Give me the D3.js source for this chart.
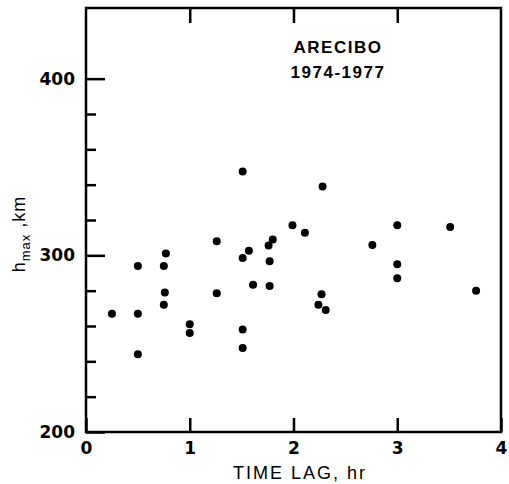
<!DOCTYPE html>
<html>
<head>
<meta charset="utf-8">
<script src="https://cdn.jsdelivr.net/npm/d3@7"></script>
<style>
  body { margin: 0; background: #fff; }
  svg { font-family: 'Liberation Sans', 'DejaVu Sans', sans-serif; }
  .axis path, .axis line { stroke: #000; stroke-width: 2.5; }
  .axis text { font-family: 'DejaVu Sans', sans-serif; font-size: 17px; font-weight: bold; fill: #000; }
</style>
</head>
<body>
<svg id="chart"></svg>
<script>
// time lag (hr) and h_max (km)
const timeLag = [0.25, 0.5, 0.5, 0.5, 0.75, 0.77, 0.76, 0.75, 1.0, 1.0, 1.26, 1.26,
  1.51, 1.51, 1.57, 1.51, 1.51, 1.61, 1.76, 1.80, 1.77, 1.77, 1.99, 2.11,
  2.28, 2.27, 2.24, 2.31, 2.76, 3.0, 3.0, 3.0, 3.51, 3.76];
const hMax = [267, 267, 294, 244, 294, 301, 279, 272, 261, 256, 308, 278.5,
  347.5, 298.5, 302.6, 258, 247.6, 283.4, 305.6, 309, 296.6, 282.7, 317, 312.8,
  339, 278, 272, 269, 305.8, 317, 295, 287, 316, 280];

const xTicks = [0, 1, 2, 3, 4];
const yMajor = [200, 300, 400];
const yMinor = [220, 240, 260, 280, 320, 340, 360, 380];
const titleLines = ['ARECIBO', '1974-1977'];

const config = {
  width: 509, height: 484,
  margin: {top: 8, right: 8, bottom: 52, left: 86}
};

const svg = d3.select('#chart')
    .attr('width', config.width)
    .attr('height', config.height);

const w = config.width - config.margin.left - config.margin.right;
const h = config.height - config.margin.top - config.margin.bottom;

const g = svg.append('g')
    .attr('transform', `translate(${config.margin.left},${config.margin.top})`);

const x = d3.scaleLinear().domain([0, 4]).range([0, w]);
const y = d3.scaleLinear().domain([200, 440]).range([h, 0]);

// frame
g.append('rect')
    .attr('width', w)
    .attr('height', h)
    .attr('fill', 'none')
    .attr('stroke', '#000')
    .attr('stroke-width', 2.5);

// axes, ticks pointing inward
g.append('g')
    .attr('class', 'axis')
    .attr('transform', `translate(0,${h})`)
    .call(d3.axisBottom(x).tickValues(xTicks).tickFormat(d3.format('d'))
        .tickSizeInner(-14).tickSizeOuter(0).tickPadding(10));

g.append('g')
    .attr('class', 'axis')
    .call(d3.axisTop(x).tickValues([1, 2, 3]).tickSizeInner(-15).tickSizeOuter(0).tickFormat(''));

g.append('g')
    .attr('class', 'axis')
    .call(d3.axisLeft(y).tickValues(yMajor).tickSizeInner(-19).tickSizeOuter(0).tickPadding(11));

g.append('g')
    .attr('class', 'axis')
    .call(d3.axisLeft(y).tickValues(yMinor).tickSizeInner(-10).tickSizeOuter(0).tickFormat(''));

g.selectAll('.axis .domain').remove();

// points
g.selectAll('.dot')
    .data(timeLag.map((t, i) => ({t, h: hMax[i]})))
    .join('circle')
    .attr('class', 'dot')
    .attr('cx', d => x(d.t))
    .attr('cy', d => y(d.h))
    .attr('r', 4)
    .attr('fill', '#000');

// title
g.selectAll('.title')
    .data(titleLines)
    .join('text')
    .attr('class', 'title')
    .attr('x', 252)
    .attr('y', (d, i) => 45 + i * 25)
    .attr('text-anchor', 'middle')
    .attr('font-size', '17px')
    .attr('font-weight', 'bold')
    .attr('letter-spacing', '1.5px')
    .text(d => d);

// axis titles
svg.append('text')
    .attr('x', 300)
    .attr('y', 479)
    .attr('text-anchor', 'middle')
    .attr('font-size', '18px')
    .attr('letter-spacing', '2px')
    .text('TIME LAG, hr');

const yl = svg.append('text')
    .attr('transform', 'translate(25,234) rotate(-90)')
    .attr('text-anchor', 'middle')
    .attr('font-size', '18px')
    .attr('letter-spacing', '1px');
yl.append('tspan').text('h');
yl.append('tspan').attr('font-size', '13px').attr('dy', 5).text('max');
yl.append('tspan').attr('dy', -5).text(' ,km');
</script>
</body>
</html>
